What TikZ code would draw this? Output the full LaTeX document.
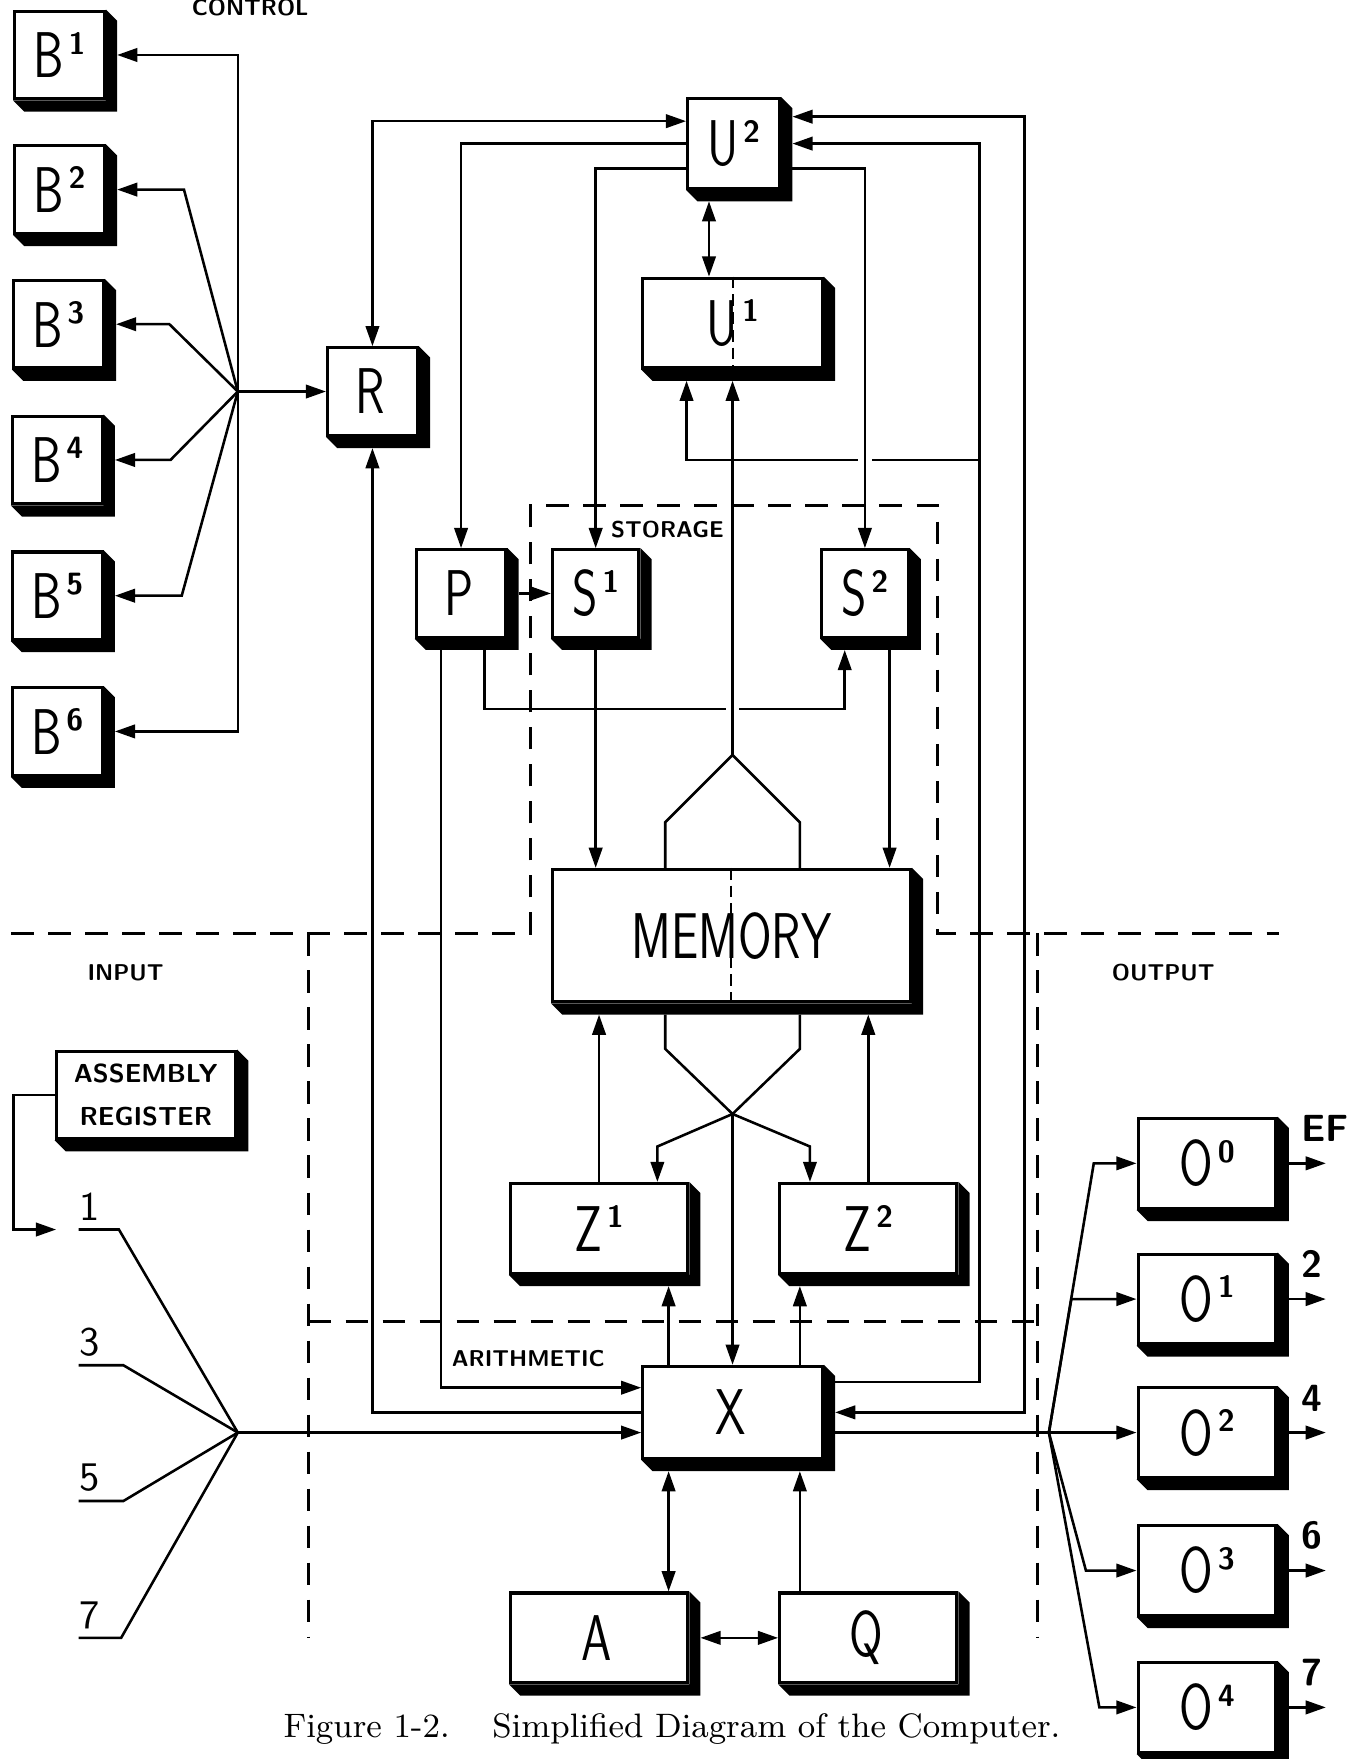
\documentclass[tikz,border=0pt]{standalone}
\usepackage{fontspec}
\usepackage{graphicx}
\usetikzlibrary{calc, positioning}
\usetikzlibrary{arrows.meta}
\tikzset{>={Triangle[length=1.8mm,width=1.2mm]}}
% condensed lettering with a raised index
\newcommand{\unitlbl}[2]{\scalebox{0.75}[1]{#1}\kern1.2pt\raisebox{6pt}{\fontsize{7.8}{8}\selectfont\bfseries #2}}

\begin{document}
\begin{tikzpicture}[x=0.1mm, y=-0.1mm, line width=0.65pt,
  unit/.style={draw, fill=white, line width=0.8pt, inner sep=0pt, minimum width=8mm, minimum height=7.8mm, font=\sffamily\fontsize{16.4}{18}\selectfont},
  wide/.style={unit, minimum width=15.8mm, minimum height=8mm},
  outbox/.style={unit, minimum width=12.3mm, minimum height=8mm},
  zone/.style={line width=0.75pt, dash pattern=on 2mm off 1.3mm},
  midline/.style={line width=0.5pt, dash pattern=on 3pt off 1.5pt},
  tag/.style={font=\sffamily\bfseries\fontsize{5.8}{7}\selectfont, inner sep=0pt},
  num/.style={font=\sffamily\fontsize{10.3}{12}\selectfont, inner sep=0pt}]
\useasboundingbox (0,0) rectangle (1211,1568);

% region borders
\draw[zone] (10,832) -- (473,832) -- (473,451) -- (836,451) -- (836,832) -- (1140,832);
\draw[zone] (275,832) -- (275,1460);
\draw[zone] (925,832) -- (925,1460);
\draw[zone] (275,1178) -- (925,1178);

% control
\node[unit] (b1) at (53,49) {\unitlbl{B}{1}};
\node[unit] (b2) at (53,169) {\unitlbl{B}{2}};
\node[unit] (b3) at (52,289) {\unitlbl{B}{3}};
\node[unit] (b4) at (51,410) {\unitlbl{B}{4}};
\node[unit] (b5) at (51,531) {\unitlbl{B}{5}};
\node[unit] (b6) at (51,652) {\unitlbl{B}{6}};
\node[unit] (r) at (332,349) {\unitlbl{R}{}};
\node[unit, minimum width=8.2mm, minimum height=8mm] (u2) at (654,128) {\unitlbl{U}{2}};
\node[wide, minimum width=16mm] (u1) at (653,288) {\unitlbl{U}{1}};

% storage
\node[unit] (p) at (411,529) {\unitlbl{P}{}};
\node[unit, minimum width=7.7mm] (s1) at (531,529) {\unitlbl{S}{1}};
\node[unit, minimum width=7.7mm] (s2) at (771,529) {\unitlbl{S}{2}};
\node[unit, minimum width=31.9mm, minimum height=11.8mm] (mem) at (652,834) {\scalebox{0.75}[1]{MEMORY}};

% arithmetic
\node[wide] (z1) at (534,1095) {\unitlbl{Z}{1}};
\node[wide] (z2) at (774,1095) {\unitlbl{Z}{2}};
\node[wide, minimum width=16mm, minimum height=8.2mm] (x) at (653,1259) {\unitlbl{X}{}};
\node[wide] (a) at (534,1460) {\unitlbl{A}{}};
\node[wide] (q) at (774,1460) {\unitlbl{Q}{}};

% input / output
\node[unit, minimum width=16mm, align=center, font=\sffamily\bfseries\fontsize{6.6}{10.8}\selectfont] (asm) at (130,976) {ASSEMBLY\\REGISTER};
\node[outbox] (o0) at (1076,1037) {\unitlbl{O}{0}};
\node[outbox] (o1) at (1076,1158) {\unitlbl{O}{1}};
\node[outbox] (o2) at (1076,1277) {\unitlbl{O}{2}};
\node[outbox] (o3) at (1076,1400) {\unitlbl{O}{3}};
\node[outbox] (o4) at (1076,1522) {\unitlbl{O}{4}};

% solid shadows
\foreach \n in {b1,b2,b3,b4,b5,b6,r,u2,u1,p,s1,s2,mem,z1,z2,x,a,q,asm,o0,o1,o2,o3,o4}
  \fill (\n.north east) -- ++(10,10) -- ($(\n.south east)+(10,10)$) -- ($(\n.south west)+(10,10)$) -- (\n.south west) -- (\n.south east) -- cycle;

% labels
\node[tag] (ctl) at (223,7) {CONTROL};
\node[tag] (sto) at (595,472) {STORAGE};
\node[tag] (inp) at (112,867) {INPUT};
\node[tag] (outp) at (1037,867) {OUTPUT};
\node[tag] (ari) at (471,1211) {ARITHMETIC};

% control fan
\coordinate (jb) at (212,349);
\draw[->] (jb) -- (r.west);
\draw[->] (jb) |- ([xshift=1mm]b1.east);
\draw[->] (jb) |- ([xshift=1mm]b6.east);
\draw[->] (jb) -- (164,169) -- ([xshift=1mm]b2.east);
\draw[->] (jb) -- (151,289) -- ([xshift=1mm]b3.east);
\draw[->] (jb) -- (152,410) -- ([xshift=1mm]b4.east);
\draw[->] (jb) -- (162,531) -- ([xshift=1mm]b5.east);

% U2 links
\coordinate (u2b) at ($(u2.south)+(0,10)$);
\draw[<->] (r.north) |- ($(u2.west)+(0,-20)$);
\draw[->] (u2.west) -| (p.north);
\draw[->] ($(u2.west)+(0,22)$) -| (s1.north);
\draw[<->] (u2b -| 632,0) -- (u1.north -| 632,0);
\draw[->] (x.east |- 0,1232) -| (873,128) -- ([xshift=1mm]u2.east);
\draw[<->] ($(u2.east)+(10,-24)$) -| (913,1259) -- ([xshift=1mm]x.east);
\coordinate (ujoin) at (873,410);
\draw[->] (ujoin) -| ($(u1.south)+(-41,10)$);

% P and S
\draw[->] ([xshift=1mm]p.east) -- (s1.west);
\draw[->] ($(p.south)+(21,10)$) -- (432,632) -- (753,632) -- ($(s2.south)+(-18,10)$);
\draw[->] ($(p.south)+(-18,10)$) |- (x.west |- 0,1237);
\draw[->] (s1.south) -- (s1.south |- mem.north);
\draw[->] ($(s2.south)+(22,10)$) -- (mem.north -| 793,0);

% crossings
\draw[white, line width=3.5pt] (771,400) -- (771,420);
\draw[white, line width=3.5pt] (653,622) -- (653,642);
\draw[->] ($(u2.east)+(10,22)$) -| (s2.north);

% memory fork up
\coordinate (jm) at (653,673);
\draw (mem.north -| 593,0) -- (593,733) -- (jm) -- (713,733) -- (mem.north -| 713,0);
\draw[->] (jm) -- ($(u1.south)+(0,10)$);
\draw[midline] (u1.north) -- (u1.south);
\draw[midline] (mem.north) -- (mem.south);

% memory fork down
\coordinate (mb) at ($(mem.south)+(0,10)$);
\coordinate (jx) at (653,993);
\draw (mb -| 593,0) -- (593,935) -- (jx) -- (713,935) -- (mb -| 713,0);
\draw[->] (jx) -- (586,1022) -- (z1.north -| 586,0);
\draw[->] (jx) -- (722,1022) -- (z2.north -| 722,0);
\draw[->] (jx) -- (x.north -| jx);
\draw[->] (z1.north) -- (z1.north |- mb);
\draw[->] (z2.north) -- (z2.north |- mb);

% X links
\coordinate (z1b) at ($(z1.south)+(0,10)$);
\coordinate (z2b) at ($(z2.south)+(0,10)$);
\coordinate (xb) at ($(x.south)+(0,10)$);
\draw[->] (x.north -| 596,0) -- (z1b -| 596,0);
\draw[->] (x.north -| 713,0) -- (z2b -| 713,0);
\draw[<->] (xb -| 596,0) -- (a.north -| 596,0);
\draw[->] (q.north -| 713,0) -- (xb -| 713,0);
\draw[<->] ([xshift=1mm]a.east) -- (q.west);
\draw[->] (x.west) -| ($(r.south)+(0,10)$);

% input lines
\coordinate (ji) at (212,1277);
\coordinate (ain) at (50,1096);
\draw[->] (asm.west) -| (12,1096) -- (ain);
\foreach \n/\y/\bx in {1/1096/106, 3/1217/110, 5/1338/110, 7/1460/108}{
  \node[num, anchor=south west] (in\n) at (70,\y-7) {\n};
  \draw (in\n.south west |- 0,\y) -- (\bx,\y) -- (ji);
}
\draw[->] (ji) -- (x.west |- ji);

% output lines
\coordinate (jo) at (935,1277);
\draw (x.east |- jo) -- (jo);
\draw[->] (jo) -- (975,1037) -- (o0.west);
\draw[->] (jo) -- (955,1158) -- (o1.west);
\draw[->] (jo) -- (o2.west);
\draw[->] (jo) -- (968,1400) -- (o3.west);
\draw[->] (jo) -- (980,1522) -- (o4.west);
\foreach \n/\t in {0/EF, 1/2, 2/4, 3/6, 4/7}{
  \draw[->] ([xshift=1mm]o\n.east) -- ++(33,0) coordinate (oe\n);
  \node[num, font=\sffamily\bfseries\fontsize{9.6}{12}\selectfont, anchor=south west] (ol\n) at ($(oe\n)+(-23,-18)$) {\t};
}

% caption
\node[font=\fontsize{8.6}{10}\selectfont] (cap) at (599,1541) {Figure 1-2.\hspace{0.8em} Simplified Diagram of the Computer.};
\end{tikzpicture}
\end{document}
